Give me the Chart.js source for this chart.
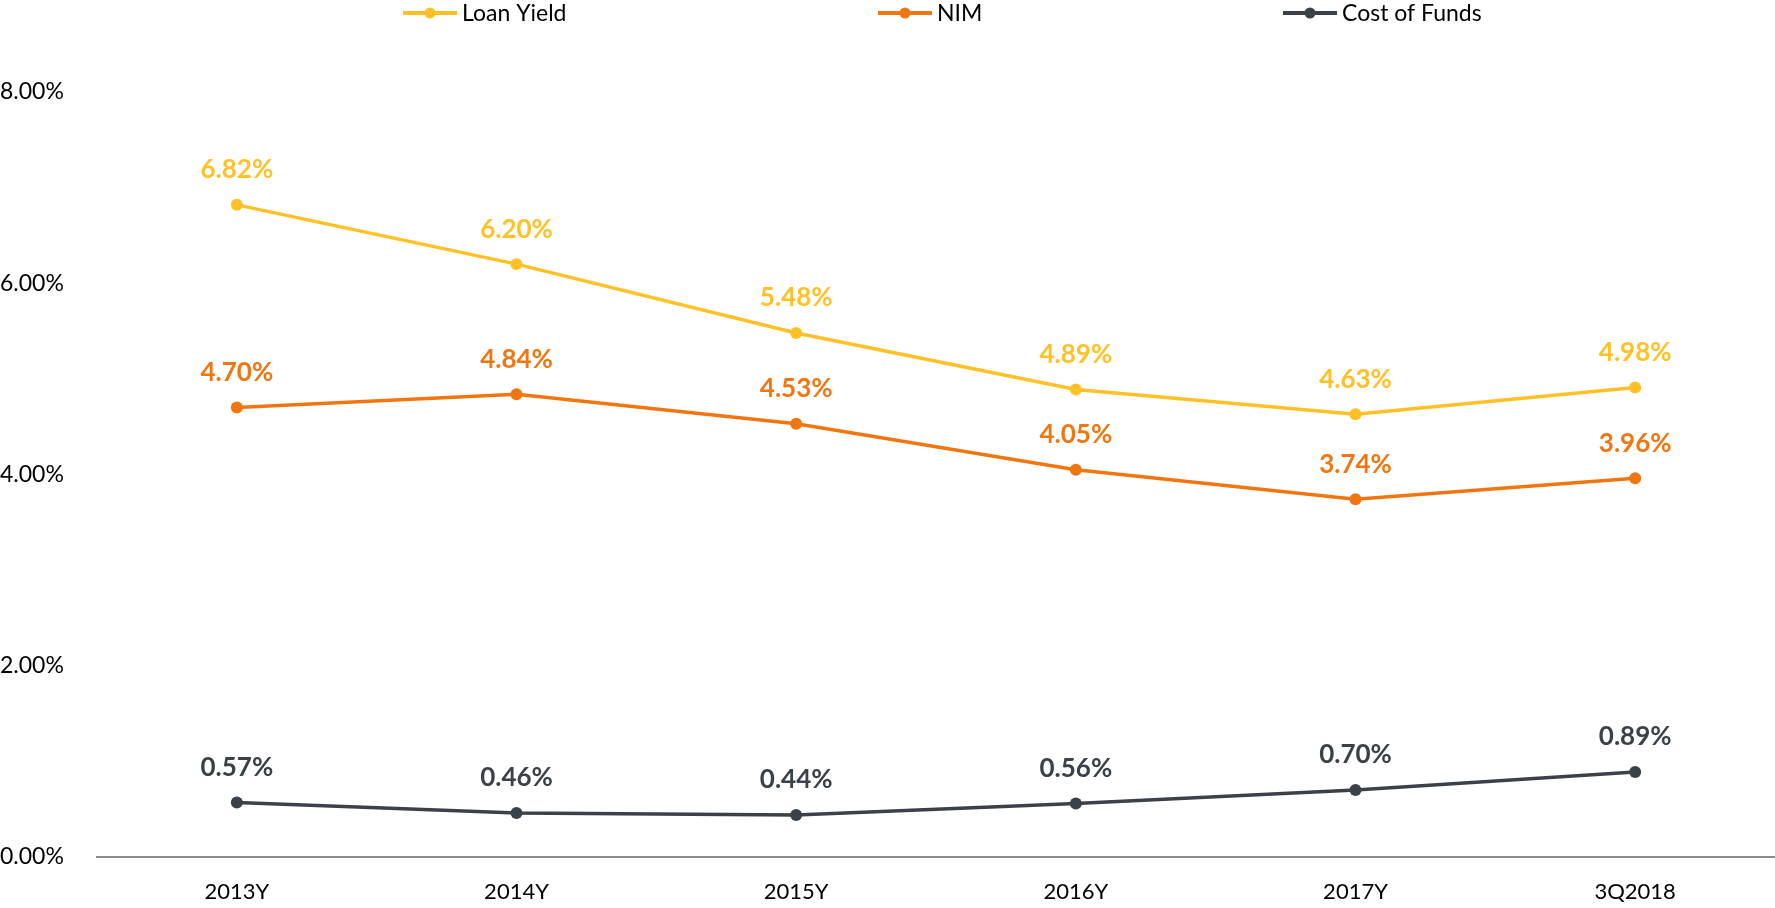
<!DOCTYPE html>
<html>
<head>
<meta charset="utf-8">
<script src="https://cdn.jsdelivr.net/npm/chart.js@4/dist/chart.umd.min.js"></script>
<style>
  html, body { margin: 0; padding: 0; background: #ffffff; overflow: hidden; }
  #wrap { width: 1775px; height: 908px; position: relative; }
  canvas { display: block; }
</style>
</head>
<body>
<div id="wrap"><canvas id="c" width="1775" height="908"></canvas></div>
<script>
const categories = ['2013Y', '2014Y', '2015Y', '2016Y', '2017Y', '3Q2018'];
const loanYield = [6.82, 6.20, 5.48, 4.89, 4.63, 4.91];
const nim = [4.70, 4.84, 4.53, 4.05, 3.74, 3.96];
const costOfFunds = [0.57, 0.46, 0.44, 0.56, 0.70, 0.89];
const loanYieldLabels = ['6.82%', '6.20%', '5.48%', '4.89%', '4.63%', '4.98%'];
const nimLabels = ['4.70%', '4.84%', '4.53%', '4.05%', '3.74%', '3.96%'];
const costOfFundsLabels = ['0.57%', '0.46%', '0.44%', '0.56%', '0.70%', '0.89%'];
const yTicks = [0, 2, 4, 6, 8];

const COLORS = { loan: '#FFC125', nim: '#F2760F', cof: '#3B4148' };
const FONT = 'Lato, "Open Sans", sans-serif';

const legendPlugin = {
  id: 'customLegend',
  afterDraw(chart) {
    const ctx = chart.ctx;
    const items = chart.data.datasets.map((d, i) => ({ text: d.label, color: d.borderColor, x: d.legendX }));
    ctx.save();
    ctx.font = '23px ' + FONT;
    ctx.textBaseline = 'middle';
    ctx.textAlign = 'left';
    const y = 13;
    items.forEach(it => {
      ctx.strokeStyle = it.color;
      ctx.lineWidth = 4;
      ctx.beginPath();
      ctx.moveTo(it.x, y);
      ctx.lineTo(it.x + 54, y);
      ctx.stroke();
      ctx.fillStyle = it.color;
      ctx.beginPath();
      ctx.arc(it.x + 27, y, 5.5, 0, Math.PI * 2);
      ctx.fill();
      ctx.fillStyle = '#000000';
      ctx.fillText(it.text, it.x + 59, y + 1);
    });
    ctx.restore();
  }
};

const valueLabelPlugin = {
  id: 'valueLabels',
  afterDatasetsDraw(chart) {
    const ctx = chart.ctx;
    ctx.save();
    ctx.font = 'bold 26px ' + FONT;
    ctx.textAlign = 'center';
    ctx.textBaseline = 'middle';
    chart.data.datasets.forEach((ds, i) => {
      const meta = chart.getDatasetMeta(i);
      ctx.fillStyle = ds.borderColor;
      meta.data.forEach((pt, j) => {
        ctx.fillText(ds.valueLabels[j], pt.x, pt.y - 35);
      });
    });
    ctx.restore();
  }
};

new Chart(document.getElementById('c'), {
  type: 'line',
  data: {
    labels: categories,
    datasets: [
      { label: 'Loan Yield', data: loanYield, valueLabels: loanYieldLabels, legendX: 403,
        borderColor: COLORS.loan, backgroundColor: COLORS.loan },
      { label: 'NIM', data: nim, valueLabels: nimLabels, legendX: 878,
        borderColor: COLORS.nim, backgroundColor: COLORS.nim },
      { label: 'Cost of Funds', data: costOfFunds, valueLabels: costOfFundsLabels, legendX: 1283,
        borderColor: COLORS.cof, backgroundColor: COLORS.cof }
    ]
  },
  options: {
    responsive: false,
    animation: false,
    devicePixelRatio: 1,
    layout: { autoPadding: false, padding: { top: 92, left: 0, right: 0, bottom: 0 } },
    elements: {
      line: { borderWidth: 3.5, tension: 0 },
      point: { radius: 6, hoverRadius: 6, borderWidth: 0 }
    },
    plugins: { legend: { display: false }, tooltip: { enabled: false } },
    scales: {
      x: {
        offset: true,
        grid: { display: false, drawTicks: false },
        border: { display: true, color: '#8C8C8C', width: 2 },
        ticks: { color: '#000000', font: { family: FONT, size: 22 }, padding: 22 },
        afterFit(s) { s.height = 51; s.paddingLeft = 0; s.paddingRight = 0; }
      },
      y: {
        min: 0, max: 8,
        afterBuildTicks(s) { s.ticks = yTicks.map(v => ({ value: v })); },
        grid: { display: false, drawTicks: false },
        border: { display: false },
        ticks: {
          color: '#000000', font: { family: FONT, size: 23 }, crossAlign: 'far',
          callback: v => v.toFixed(2) + '%'
        },
        afterFit(s) { s.width = 97; s.paddingTop = 0; s.paddingBottom = 0; }
      }
    }
  },
  plugins: [legendPlugin, valueLabelPlugin]
});
</script>
</body>
</html>
